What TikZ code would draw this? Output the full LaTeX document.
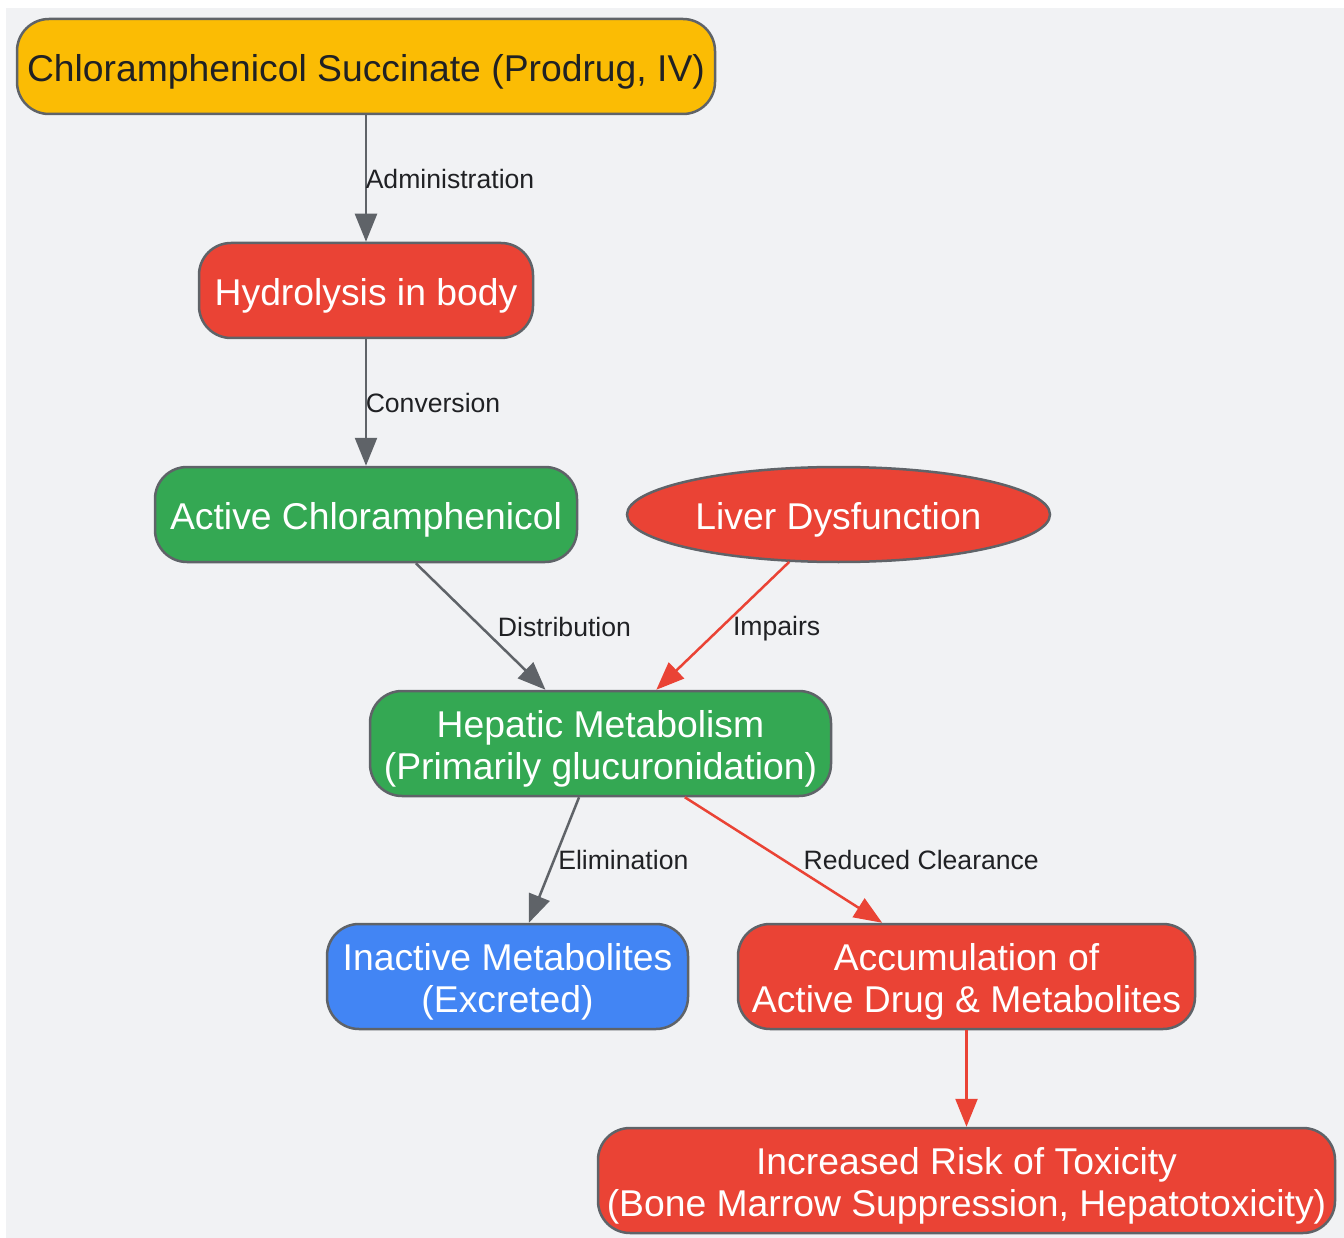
\documentclass[tikz,border=0pt]{standalone}
\usepackage{fontspec}
\setmainfont{Liberation Sans}
\usepackage{tikz}
\usetikzlibrary{calc,positioning,shapes}
\usetikzlibrary{arrows.meta}
\definecolor{bgcol}{HTML}{F1F2F4}
\definecolor{edgegray}{HTML}{5F6368}
\definecolor{txtdark}{HTML}{202124}
\definecolor{gyellow}{HTML}{FBBC04}
\definecolor{gred}{HTML}{EA4335}
\definecolor{ggreen}{HTML}{34A853}
\definecolor{gblue}{HTML}{4285F4}
\tikzset{>={Triangle[length=28pt,width=22pt]}}

\begin{document}
\begin{tikzpicture}[x=1pt, y=-1pt]
      \tikzstyle{pnode} = [draw=edgegray, line width=2.5pt, rectangle, rounded corners = 32pt, align=center,
        text=white, font=\fontsize{37.3}{42}\selectfont, inner sep = 0pt, text height=36pt, text depth=6pt]
      \tikzstyle{twoline} = [text height=80pt, text depth=8pt]
      \tikzstyle{onode} = [draw=edgegray, line width=2.5pt, ellipse, align=center,
        text=white, font=\fontsize{37.3}{42}\selectfont, inner sep = 0pt, text height=36pt, text depth=6pt]
      \tikzstyle{lbl} = [text=txtdark, font=\fontsize{26.6}{30}\selectfont, inner sep = 0pt, anchor=west]
      \tikzstyle{flow} = [->, line width=2.5pt, draw=edgegray]
      \tikzstyle{bad} = [->, line width=2.5pt, draw=gred]

      \useasboundingbox (0,0) rectangle (1344,1238);
      \fill[bgcol] (6,8) rectangle (1344,1238);

      \node[pnode, fill=gyellow, text=txtdark, minimum width=698pt, minimum height=95pt] (succ) at (366,66.5) {Chloramphenicol Succinate (Prodrug, IV)};
      \node[pnode, fill=gred, minimum width=334pt, minimum height=95pt] (hydro) at (366,290.5) {Hydrolysis in body};
      \node[pnode, fill=ggreen, minimum width=422pt, minimum height=95pt] (active) at (366,514.5) {Active Chloramphenicol};
      \node[onode, fill=gred, minimum width=423pt, minimum height=95pt] (liver) at (838.5,514.5) {Liver Dysfunction};
      \node[pnode, twoline, fill=ggreen, minimum width=461pt, minimum height=105pt] (hepatic) at (600.5,743.5) {Hepatic Metabolism\\(Primarily glucuronidation)};
      \node[pnode, twoline, fill=gblue, minimum width=361pt, minimum height=105pt] (inactive) at (507.5,976.5) {Inactive Metabolites\\(Excreted)};
      \node[pnode, twoline, fill=gred, minimum width=457pt, minimum height=105pt] (accum) at (966.5,976.5) {Accumulation of\\Active Drug \& Metabolites};
      \node[pnode, twoline, fill=gred, minimum width=737pt, minimum height=105pt] (risk) at (966.5,1180.5) {Increased Risk of Toxicity\\(Bone Marrow Suppression, Hepatotoxicity)};

      \draw[flow] (succ) -- node[lbl, xshift=-1.5pt] {Administration} (hydro);
      \draw[flow] (hydro) -- node[lbl, xshift=-1.5pt] {Conversion} (active);
      \draw[flow] (active) -- node[lbl, xshift=16pt] {Distribution} (hepatic);
      \draw[bad] (liver) -- node[lbl, xshift=9pt, yshift=-3pt] {Impairs} (hepatic);
      \draw[flow] (hepatic) -- node[lbl, xshift=3pt] {Elimination} (inactive);
      \draw[bad] (hepatic) -- node[lbl, xshift=19pt] {Reduced Clearance} (accum);
      \draw[bad] (accum) -- (risk);
    \end{tikzpicture}
\end{document}
